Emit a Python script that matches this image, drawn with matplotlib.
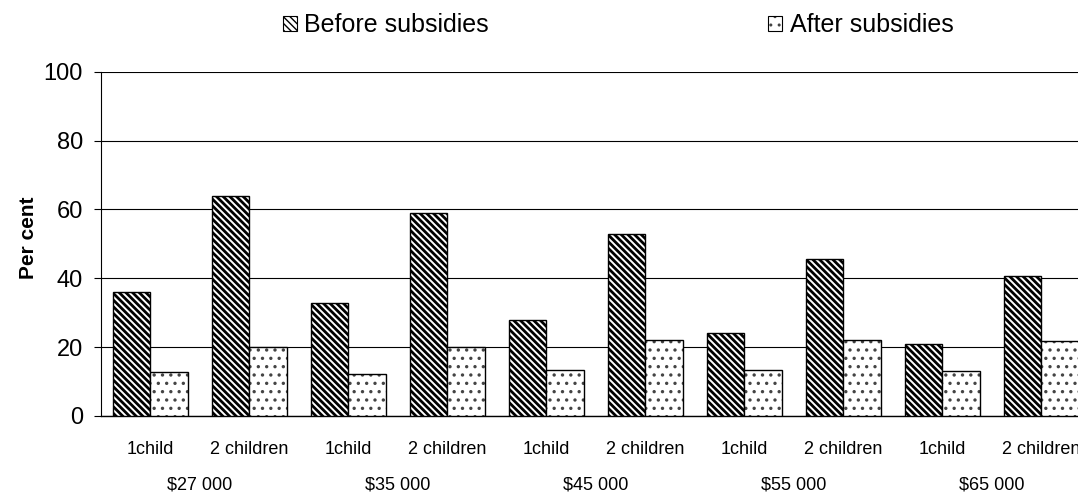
import matplotlib
matplotlib.use("Agg")
import matplotlib.pyplot as plt
from matplotlib.patches import Patch
from matplotlib.transforms import blended_transform_factory
import numpy as np

# Data
incomes = ["$27 000", "$35 000", "$45 000", "$55 000", "$65 000"]
family_types = ["1child", "2 children"]
before_subsidies = [36, 64, 32.7, 59, 28, 53, 24, 45.7, 21, 40.6]
after_subsidies = [12.7, 20, 12.1, 20, 13.3, 22, 13.3, 22, 13.2, 21.8]
y_ticks = [0, 20, 40, 60, 80, 100]

plt.rcParams["font.family"] = ["Liberation Sans", "DejaVu Sans"]
plt.rcParams["hatch.color"] = "black"

STRIPES = "\\" * 5
DOTS = ".."
STRIPE_LW = 2.0
DOT_LW = 1.2
DOT_COLOR = "#444444"


def style_hatch(patches, lw, color):
    for p in patches:
        if hasattr(p, "set_hatch_linewidth"):
            p.set_hatch_linewidth(lw)
        if hasattr(p, "set_hatchcolor"):
            p.set_hatchcolor(color)
        else:
            p._hatch_color = matplotlib.colors.to_rgba(color)


fig = plt.figure(figsize=(10.78, 4.93), dpi=100)
ax = fig.add_axes([0.0937, 0.1562, 0.918, 0.6984])

n = len(before_subsidies)
x = np.arange(n) + 0.5
w = 0.379

with plt.rc_context({"hatch.linewidth": STRIPE_LW}):
    bars_b = ax.bar(x - w / 2, before_subsidies, width=w, color="white",
                    edgecolor="black", linewidth=1.0, hatch=STRIPES, zorder=3)
with plt.rc_context({"hatch.linewidth": DOT_LW}):
    bars_a = ax.bar(x + w / 2, after_subsidies, width=w, color="white",
                    edgecolor="black", linewidth=1.0, hatch=DOTS, zorder=3)
style_hatch(bars_b, STRIPE_LW, "black")
style_hatch(bars_a, DOT_LW, DOT_COLOR)

ax.set_xlim(0, n)
ax.set_ylim(0, 100)
ax.set_yticks(y_ticks)
ax.tick_params(axis="y", direction="out", length=5, width=0.8, pad=8,
               labelsize=17)
ax.yaxis.grid(True, color="black", linewidth=0.8, zorder=0)
ax.set_axisbelow(True)

for s in ["top", "right"]:
    ax.spines[s].set_visible(False)
ax.spines["left"].set_linewidth(0.8)
ax.spines["bottom"].set_linewidth(1.0)

labels = [family_types[i % 2] for i in range(n)]
ax.set_xticks(x)
ax.set_xticklabels(labels, fontsize=13)
ax.tick_params(axis="x", length=0, pad=18)

trans = blended_transform_factory(ax.transData, fig.transFigure)
for g, inc in enumerate(incomes):
    ax.text(2 * g + 1, 1 - 485 / 493, inc, transform=trans, ha="center",
            va="center", fontsize=13)

fig.text(28 / 1078, 1 - 238 / 493, "Per cent", rotation=90, ha="center",
         va="center", fontsize=15, fontweight="bold")

# Legend entries, placed individually along the top
with plt.rc_context({"hatch.linewidth": STRIPE_LW}):
    h_before = Patch(facecolor="white", edgecolor="black", hatch=STRIPES,
                     linewidth=0.8)
with plt.rc_context({"hatch.linewidth": DOT_LW}):
    h_after = Patch(facecolor="white", edgecolor="black", hatch=DOTS,
                    linewidth=0.8)
style_hatch([h_before], STRIPE_LW, "black")
style_hatch([h_after], DOT_LW, DOT_COLOR)
for handle, text, xpos in [(h_before, "Before subsidies", 283),
                           (h_after, "After subsidies", 768)]:
    fig.legend([handle], [text], loc="center left",
               bbox_to_anchor=(xpos / 1078, 1 - 25 / 493),
               frameon=False, fontsize=18, borderpad=0,
               borderaxespad=0, handlelength=0.56, handleheight=0.56,
               handletextpad=0.3)

fig.savefig("out.png", dpi=100)
